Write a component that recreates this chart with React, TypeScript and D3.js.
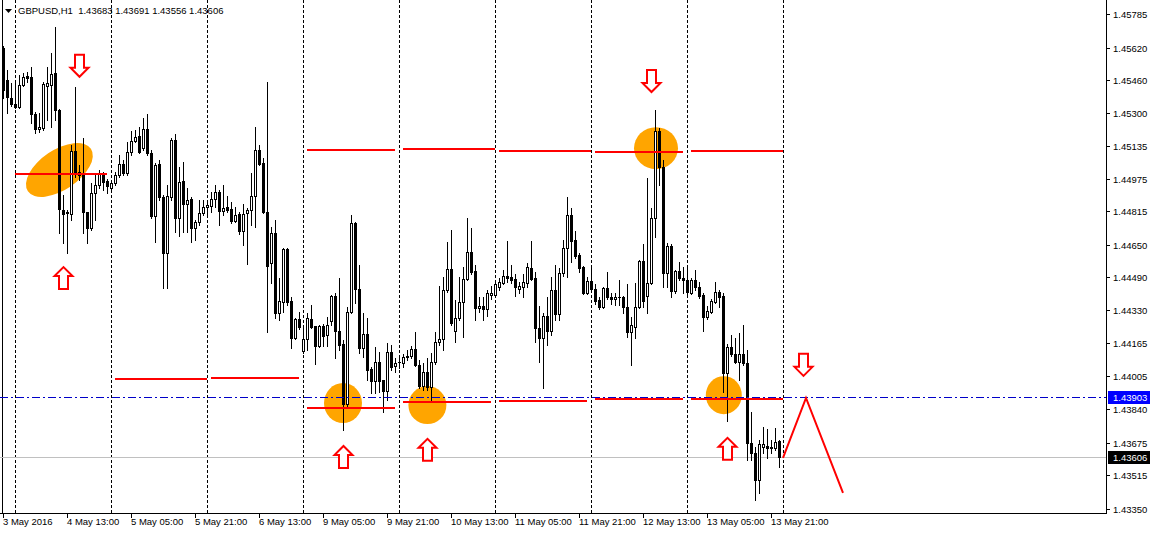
import React, { useEffect } from "react";
import * as d3 from "d3";

// ---------- data ----------
const symbolTitle = "GBPUSD,H1";
const lastBarOHLC = ["1.43683", "1.43691", "1.43556", "1.43606"];

const open = [
  1.45618, 1.45460, 1.45372, 1.45342, 1.45328, 1.45435, 1.45480, 1.45476, 1.45293, 1.45220,
  1.45224, 1.45430, 1.45435, 1.45495, 1.45313, 1.44821, 1.44806, 1.44801, 1.45111, 1.45008,
  1.45003, 1.44811, 1.44733, 1.44904, 1.44944, 1.44993, 1.44963, 1.44929, 1.44953, 1.44993,
  1.45047, 1.45003, 1.45106, 1.45160, 1.45184, 1.45125, 1.45220, 1.45101, 1.44791, 1.45047,
  1.44885, 1.44609, 1.44885, 1.45165, 1.44782, 1.44963, 1.44850, 1.44875, 1.44733, 1.44762,
  1.44806, 1.44836, 1.44840, 1.44875, 1.44909, 1.44816, 1.44836, 1.44826, 1.44767, 1.44801,
  1.44718, 1.44806, 1.44821, 1.44889, 1.45116, 1.45052, 1.44811, 1.44560, 1.44707, 1.44314,
  1.44368, 1.44629, 1.44373, 1.44191, 1.44285, 1.44127, 1.44186, 1.44285, 1.44250, 1.44152,
  1.44250, 1.44206, 1.44275, 1.44397, 1.44225, 1.44162, 1.43866, 1.44319, 1.44757, 1.44432,
  1.44142, 1.44211, 1.44039, 1.43980, 1.44073, 1.43985, 1.43930, 1.44122, 1.44053, 1.44073,
  1.44068, 1.44098, 1.44102, 1.44137, 1.44058, 1.43955, 1.44024, 1.43950, 1.44073, 1.44171,
  1.44186, 1.44427, 1.44531, 1.44225, 1.44289, 1.44368, 1.44482, 1.44614, 1.44521, 1.44338,
  1.44348, 1.44334, 1.44402, 1.44402, 1.44442, 1.44461, 1.44496, 1.44491, 1.44482, 1.44432,
  1.44442, 1.44461, 1.44535, 1.44486, 1.44240, 1.44191, 1.44299, 1.44225, 1.44427, 1.44309,
  1.44511, 1.44634, 1.44796, 1.44673, 1.44599, 1.44540, 1.44412, 1.44471, 1.44432, 1.44378,
  1.44343, 1.44437, 1.44393, 1.44383, 1.44393, 1.44393, 1.44343, 1.44220, 1.44245, 1.44343,
  1.44570, 1.44397, 1.44461, 1.44782, 1.45209, 1.45032, 1.44511, 1.44644, 1.44422, 1.44521,
  1.44486, 1.44477, 1.44412, 1.44477, 1.44442, 1.44402, 1.44294, 1.44319, 1.44368, 1.44417,
  1.44397, 1.44019, 1.44147, 1.44112, 1.44073, 1.44112, 1.44068, 1.43674, 1.43625, 1.43493,
  1.43655, 1.43660, 1.43650, 1.43650, 1.43683,
];

const high = [
  1.45627, 1.45510, 1.45445, 1.45450, 1.45485, 1.45495, 1.45500, 1.45525, 1.45303, 1.45298,
  1.45450, 1.45525, 1.45593, 1.45722, 1.45318, 1.44894, 1.44821, 1.45140, 1.45426, 1.45042,
  1.45175, 1.44811, 1.44953, 1.44993, 1.45018, 1.45008, 1.44973, 1.44968, 1.45008, 1.45091,
  1.45067, 1.45155, 1.45209, 1.45214, 1.45229, 1.45273, 1.45293, 1.45116, 1.45052, 1.45067,
  1.44894, 1.44944, 1.45175, 1.45194, 1.45032, 1.45057, 1.44929, 1.44885, 1.44772, 1.44870,
  1.44870, 1.44870, 1.44909, 1.44944, 1.44919, 1.44944, 1.44889, 1.44860, 1.44836, 1.44811,
  1.44850, 1.44831, 1.45003, 1.45229, 1.45140, 1.45077, 1.45450, 1.44737, 1.44772, 1.44486,
  1.44634, 1.44634, 1.44393, 1.44289, 1.44319, 1.44240, 1.44314, 1.44353, 1.44250, 1.44255,
  1.44260, 1.44294, 1.44402, 1.44412, 1.44486, 1.44181, 1.44343, 1.44796, 1.44762, 1.44550,
  1.44314, 1.44289, 1.44048, 1.44147, 1.44122, 1.43985, 1.44167, 1.44157, 1.44093, 1.44098,
  1.44112, 1.44132, 1.44152, 1.44220, 1.44083, 1.44068, 1.44093, 1.44117, 1.44220, 1.44447,
  1.44491, 1.44663, 1.44723, 1.44378, 1.44491, 1.44540, 1.44782, 1.44733, 1.44550, 1.44393,
  1.44393, 1.44427, 1.44447, 1.44477, 1.44486, 1.44526, 1.44668, 1.44550, 1.44506, 1.44466,
  1.44506, 1.44560, 1.44668, 1.44516, 1.44348, 1.44314, 1.44393, 1.44491, 1.44550, 1.44535,
  1.44673, 1.44885, 1.44831, 1.44718, 1.44609, 1.44545, 1.44491, 1.44545, 1.44456, 1.44393,
  1.44442, 1.44516, 1.44412, 1.44412, 1.44477, 1.44397, 1.44456, 1.44294, 1.44461, 1.44575,
  1.44653, 1.44978, 1.44831, 1.45313, 1.45224, 1.45067, 1.44658, 1.44653, 1.44526, 1.44565,
  1.44540, 1.44540, 1.44486, 1.44526, 1.44466, 1.44412, 1.44348, 1.44383, 1.44466, 1.44427,
  1.44412, 1.44162, 1.44206, 1.44191, 1.44216, 1.44255, 1.44132, 1.43827, 1.43655, 1.43690,
  1.43753, 1.43743, 1.43690, 1.43748, 1.43691,
];

const low = [
  1.45372, 1.45298, 1.45332, 1.45323, 1.45323, 1.45430, 1.45450, 1.45249, 1.45199, 1.45204,
  1.45214, 1.45264, 1.45229, 1.45264, 1.44707, 1.44658, 1.44609, 1.44772, 1.44984, 1.44968,
  1.44707, 1.44658, 1.44723, 1.44772, 1.44929, 1.44919, 1.44904, 1.44919, 1.44944, 1.44984,
  1.44993, 1.44993, 1.45091, 1.45155, 1.45101, 1.45116, 1.45091, 1.44782, 1.44663, 1.44870,
  1.44437, 1.44437, 1.44870, 1.44713, 1.44693, 1.44713, 1.44713, 1.44663, 1.44673, 1.44747,
  1.44796, 1.44796, 1.44811, 1.44836, 1.44747, 1.44796, 1.44811, 1.44757, 1.44762, 1.44703,
  1.44648, 1.44555, 1.44747, 1.44737, 1.45042, 1.44806, 1.44220, 1.44461, 1.44289, 1.44280,
  1.44319, 1.44353, 1.44142, 1.44186, 1.44235, 1.44117, 1.44132, 1.44240, 1.44063, 1.44147,
  1.44152, 1.44152, 1.44255, 1.44093, 1.44132, 1.43738, 1.43847, 1.44314, 1.44363, 1.44117,
  1.44098, 1.43985, 1.43920, 1.43920, 1.43925, 1.43827, 1.43886, 1.44034, 1.44024, 1.44044,
  1.44048, 1.44083, 1.44093, 1.44053, 1.43945, 1.43935, 1.43935, 1.43886, 1.44063, 1.44157,
  1.44132, 1.44417, 1.44255, 1.44171, 1.44280, 1.44196, 1.44477, 1.44506, 1.44280, 1.44319,
  1.44280, 1.44299, 1.44383, 1.44397, 1.44427, 1.44456, 1.44466, 1.44461, 1.44397, 1.44412,
  1.44393, 1.44442, 1.44477, 1.44171, 1.44073, 1.43945, 1.44157, 1.44206, 1.44280, 1.44280,
  1.44496, 1.44491, 1.44565, 1.44585, 1.44516, 1.44407, 1.44407, 1.44427, 1.44358, 1.44334,
  1.44338, 1.44383, 1.44358, 1.44353, 1.44353, 1.44314, 1.44196, 1.44058, 1.44191, 1.44338,
  1.44343, 1.44314, 1.44456, 1.44688, 1.44944, 1.44442, 1.44442, 1.44393, 1.44412, 1.44477,
  1.44412, 1.44407, 1.44407, 1.44427, 1.44388, 1.44225, 1.44285, 1.44314, 1.44363, 1.44343,
  1.43925, 1.43783, 1.44102, 1.44068, 1.43985, 1.44058, 1.43591, 1.43591, 1.43394, 1.43429,
  1.43625, 1.43600, 1.43625, 1.43640, 1.43556,
];

const close = [
  1.45411, 1.45377, 1.45342, 1.45328, 1.45435, 1.45476, 1.45471, 1.45293, 1.45220, 1.45229,
  1.45440, 1.45445, 1.45490, 1.45313, 1.44826, 1.44801, 1.44811, 1.45111, 1.45008, 1.44993,
  1.44811, 1.44733, 1.44904, 1.44944, 1.44998, 1.44958, 1.44939, 1.44953, 1.44993, 1.45047,
  1.45003, 1.45106, 1.45160, 1.45179, 1.45106, 1.45220, 1.45101, 1.44791, 1.45042, 1.44885,
  1.44609, 1.44889, 1.45165, 1.44782, 1.44958, 1.44850, 1.44870, 1.44733, 1.44762, 1.44806,
  1.44836, 1.44845, 1.44875, 1.44909, 1.44816, 1.44831, 1.44821, 1.44767, 1.44796, 1.44718,
  1.44801, 1.44821, 1.44889, 1.45116, 1.45047, 1.44811, 1.44545, 1.44707, 1.44314, 1.44373,
  1.44629, 1.44368, 1.44191, 1.44285, 1.44245, 1.44186, 1.44289, 1.44245, 1.44152, 1.44250,
  1.44201, 1.44255, 1.44397, 1.44225, 1.44157, 1.43866, 1.44319, 1.44757, 1.44432, 1.44142,
  1.44211, 1.44034, 1.43980, 1.44073, 1.43980, 1.43930, 1.44122, 1.44048, 1.44068, 1.44071,
  1.44098, 1.44102, 1.44137, 1.44058, 1.43955, 1.44024, 1.43950, 1.44073, 1.44171, 1.44186,
  1.44427, 1.44531, 1.44265, 1.44289, 1.44368, 1.44482, 1.44614, 1.44516, 1.44338, 1.44348,
  1.44334, 1.44412, 1.44412, 1.44456, 1.44466, 1.44496, 1.44486, 1.44477, 1.44442, 1.44447,
  1.44466, 1.44540, 1.44482, 1.44240, 1.44191, 1.44299, 1.44225, 1.44427, 1.44309, 1.44511,
  1.44634, 1.44796, 1.44668, 1.44594, 1.44535, 1.44412, 1.44471, 1.44432, 1.44373, 1.44343,
  1.44437, 1.44393, 1.44383, 1.44393, 1.44392, 1.44343, 1.44220, 1.44255, 1.44343, 1.44570,
  1.44373, 1.44461, 1.44782, 1.45209, 1.45032, 1.44511, 1.44644, 1.44422, 1.44521, 1.44486,
  1.44477, 1.44417, 1.44477, 1.44442, 1.44397, 1.44294, 1.44324, 1.44373, 1.44417, 1.44393,
  1.44019, 1.44147, 1.44112, 1.44073, 1.44112, 1.44068, 1.43674, 1.43625, 1.43493, 1.43669,
  1.43669, 1.43650, 1.43655, 1.43680, 1.43606,
];

const priceTicks = [
  1.45785, 1.4562, 1.4546, 1.453, 1.45135, 1.44975, 1.44815, 1.4465,
  1.4449, 1.4433, 1.44165, 1.44005, 1.4384, 1.43675, 1.43515, 1.4335,
];

const timeTickIndex = [0, 16, 32, 48, 64, 80, 96, 112, 128, 144, 160, 176, 192];
const timeTickLabels = [
  "3 May 2016", "4 May 13:00", "5 May 05:00", "5 May 21:00", "6 May 13:00",
  "9 May 05:00", "9 May 21:00", "10 May 13:00", "11 May 05:00", "11 May 21:00",
  "12 May 13:00", "13 May 05:00", "13 May 21:00",
];
const daySeparatorIndex = [3, 27, 51, 75, 99, 123, 147, 171, 195];

const bidPrice = 1.43606;
const hLinePrice = 1.43903;

// red horizontal segments: [fromIndex, toIndex, price]
const resistanceSegments = [
  [3, 26, 1.45003],
  [76, 98, 1.45121],
  [100, 123, 1.45125],
  [124, 147, 1.45116],
  [148, 170, 1.45111],
  [172, 195, 1.45116],
];
const supportSegments = [
  [28, 51, 1.43995],
  [52, 74, 1.44],
  [76, 98, 1.43852],
  [100, 122, 1.43881],
  [124, 146, 1.43886],
  [148, 170, 1.43896],
  [172, 195, 1.43896],
];

// forecast zig-zag [index, price]
const forecastPath = [
  [195, 1.43601],
  [200.75, 1.43896],
  [210, 1.43429],
];

// arrows [index, tipPrice, direction]
const arrowMarks = [
  [19, 1.45476, "down"],
  [162, 1.45401, "down"],
  [200, 1.44005, "down"],
  [15, 1.4454, "up"],
  [85, 1.4366, "up"],
  [106, 1.43695, "up"],
  [181, 1.437, "up"],
];

// highlight ellipses [index, price]
const highlightCenters = [
  [14.1, 1.45018],
  [85, 1.43871],
  [106.1, 1.43861],
  [163.25, 1.45125],
  [180.2, 1.4391],
];
const highlightShape = [
  [38, 20, -34],
  [19, 20, 0],
  [19, 19, 0],
  [22, 21, 0],
  [18, 19, 0],
];

// ---------- chart ----------
export default function App() {
  useEffect(() => {
    document.body.style.margin = "0";
  }, []);

  const W = 1150;
  const H = 533;
  const plotR = 1106;
  const plotB = 513;
  const font = "'Liberation Sans', Arial, sans-serif";

  const x = d3.scaleLinear().domain([0, 195]).range([3, 783]);
  const y = d3.scaleLinear().domain([1.4335, 1.45785]).range([509, 14]);
  const px = (i: number) => Math.round(x(i));
  const py = (p: number) => Math.round(y(p));

  const zig = d3
    .line<number[]>()
    .x((d) => x(d[0]))
    .y((d) => y(d[1]))(forecastPath as number[][]);

  const arrowPath = (cx: number, ty: number, dir: string) => {
    const s = dir === "down" ? -1 : 1;
    const pts = [
      [cx - 4.5, ty + s * 22],
      [cx + 4.5, ty + s * 22],
      [cx + 4.5, ty + s * 9],
      [cx + 9, ty + s * 9],
      [cx, ty],
      [cx - 9, ty + s * 9],
      [cx - 4.5, ty + s * 9],
    ];
    return "M" + pts.map((p) => p.join(",")).join("L") + "Z";
  };

  return (
    <svg
      width={W}
      height={H}
      style={{ position: "fixed", left: 0, top: 0, display: "block", background: "#fff" }}
      fontFamily={font}
    >
      <rect x={0} y={0} width={W} height={H} fill="#fff" />

      {/* orange highlights (background) */}
      {highlightCenters.map((c, i) => (
        <ellipse
          key={"e" + i}
          cx={x(c[0])}
          cy={y(c[1])}
          rx={highlightShape[i][0]}
          ry={highlightShape[i][1]}
          transform={`rotate(${highlightShape[i][2]} ${x(c[0])} ${y(c[1])})`}
          fill="#ffa500"
        />
      ))}

      {/* day separators */}
      {daySeparatorIndex.map((d) => (
        <line
          key={"s" + d}
          x1={px(d) + 0.5}
          x2={px(d) + 0.5}
          y1={0}
          y2={plotB}
          stroke="#000"
          strokeDasharray="3,2"
          shapeRendering="crispEdges"
        />
      ))}

      {/* left border */}
      <line x1={2.5} x2={2.5} y1={0} y2={plotB} stroke="#000" shapeRendering="crispEdges" />

      {/* bid line */}
      <line
        x1={0}
        x2={plotR}
        y1={py(bidPrice) + 0.5}
        y2={py(bidPrice) + 0.5}
        stroke="#c0c0c0"
        shapeRendering="crispEdges"
      />

      {/* candles */}
      <g shapeRendering="crispEdges">
        {open.map((o, i) => {
          const c = close[i];
          const h = Math.max(high[i], o, c);
          const l = Math.min(low[i], o, c);
          const cx = px(i);
          const yh = py(h);
          const yl = py(l);
          const top = Math.min(py(o), py(c));
          const bot = Math.max(py(o), py(c));
          const bull = c > o;
          let body;
          if (bot - top < 1) {
            body = <rect x={cx - 1} y={top} width={3} height={1} fill="#000" />;
          } else if (bull) {
            body = (
              <rect
                x={cx - 0.5}
                y={top + 0.5}
                width={2}
                height={bot - top}
                fill="#fff"
                stroke="#000"
                strokeWidth={1}
              />
            );
          } else {
            body = <rect x={cx - 1} y={top} width={3} height={bot - top + 1} fill="#000" />;
          }
          return (
            <g key={"c" + i}>
              <rect x={cx} y={yh} width={1} height={yl - yh + 1} fill="#000" />
              {body}
            </g>
          );
        })}
      </g>

      {/* red level segments */}
      {[...resistanceSegments, ...supportSegments].map((s, i) => (
        <line
          key={"r" + i}
          x1={x(s[0])}
          x2={x(s[1])}
          y1={py(s[2]) + 0.5}
          y2={py(s[2]) + 0.5}
          stroke="#ff0000"
          strokeWidth={2}
          shapeRendering="crispEdges"
        />
      ))}

      {/* horizontal line object */}
      <line
        x1={0}
        x2={plotR}
        y1={py(hLinePrice) + 0.5}
        y2={py(hLinePrice) + 0.5}
        stroke="#0000c8"
        strokeDasharray="8,3,2,3"
        shapeRendering="crispEdges"
      />

      {/* forecast zig-zag */}
      <path d={zig || ""} fill="none" stroke="#ff0000" strokeWidth={2} />

      {/* arrows */}
      {arrowMarks.map((a, i) => (
        <path
          key={"a" + i}
          d={arrowPath(px(a[0] as number) + 0.5, y(a[1] as number), a[2] as string)}
          fill="#fff"
          stroke="#ff0000"
          strokeWidth={2}
          strokeLinejoin="miter"
        />
      ))}

      {/* header */}
      <path d="M5,9 L12,9 L8.5,13 Z" fill="#000" />
      <text x={18} y={14} fontSize={9.5} fill="#000" style={{ whiteSpace: "pre" }}>
        {symbolTitle + "  " + lastBarOHLC.join(" ")}
      </text>

      {/* price axis */}
      <line x1={plotR + 0.5} x2={plotR + 0.5} y1={0} y2={plotB + 1} stroke="#000" shapeRendering="crispEdges" />
      {priceTicks.map((v) => (
        <g key={"p" + v}>
          <line
            x1={plotR}
            x2={plotR + 4}
            y1={py(v) + 0.5}
            y2={py(v) + 0.5}
            stroke="#000"
            shapeRendering="crispEdges"
          />
          <text x={plotR + 7} y={py(v) + 3.5} fontSize={9.5} fill="#000">
            {v.toFixed(5)}
          </text>
        </g>
      ))}

      {/* current value labels */}
      <rect x={plotR + 2} y={py(hLinePrice) - 6} width={42} height={13} fill="#0000ff" />
      <text x={plotR + 7} y={py(hLinePrice) + 4} fontSize={9.5} fill="#fff">
        {hLinePrice.toFixed(5)}
      </text>
      <rect x={plotR + 2} y={py(bidPrice) - 6} width={42} height={13} fill="#000" />
      <text x={plotR + 7} y={py(bidPrice) + 4} fontSize={9.5} fill="#fff">
        {bidPrice.toFixed(5)}
      </text>

      {/* time axis */}
      <line x1={0} x2={plotR + 1} y1={plotB + 0.5} y2={plotB + 0.5} stroke="#000" shapeRendering="crispEdges" />
      {timeTickIndex.map((t, i) => (
        <g key={"t" + t}>
          <line
            x1={px(t) + 0.5}
            x2={px(t) + 0.5}
            y1={plotB}
            y2={plotB + 5}
            stroke="#000"
            shapeRendering="crispEdges"
          />
          <text x={px(t)} y={plotB + 12} fontSize={9.5} fill="#000">
            {timeTickLabels[i]}
          </text>
        </g>
      ))}
    </svg>
  );
}
